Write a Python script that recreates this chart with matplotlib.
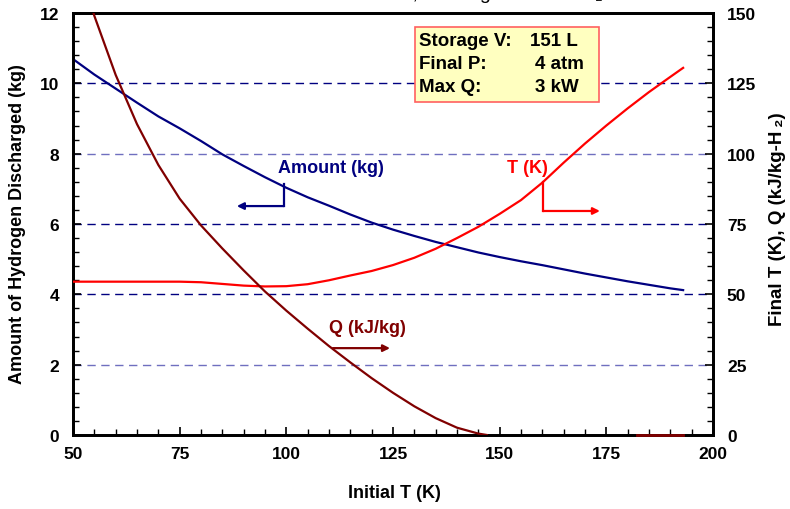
import matplotlib
matplotlib.use("Agg")
import matplotlib.pyplot as plt
from matplotlib.ticker import MultipleLocator
from matplotlib.patches import Rectangle

plt.rcParams['font.family'] = ['Liberation Sans', 'DejaVu Sans']

# ---- data ----
amount_x = [50, 55, 60, 65, 70, 75, 80, 85, 90, 95, 100, 105, 110, 115, 120, 125, 130,
            135, 140, 145, 150, 155, 160, 165, 170, 175, 180, 185, 190, 193]
amount_kg = [10.69, 10.25, 9.85, 9.45, 9.06, 8.72, 8.36, 7.98, 7.65, 7.33, 7.03, 6.76,
             6.52, 6.27, 6.04, 5.84, 5.66, 5.49, 5.34, 5.19, 5.06, 4.94, 4.83, 4.71,
             4.59, 4.48, 4.37, 4.27, 4.17, 4.12]

temp_x = [50, 55, 60, 65, 70, 75, 80, 85, 90, 95, 100, 105, 110, 115, 120, 125, 130,
          135, 140, 145, 150, 155, 160, 165, 170, 175, 180, 185, 190, 193]
temp_K = [54.5, 54.5, 54.5, 54.5, 54.5, 54.5, 54.3, 53.7, 53.1, 52.8, 52.9, 53.6, 55.0,
          56.7, 58.3, 60.4, 63.0, 66.2, 70.0, 74.0, 78.6, 83.5, 89.7, 96.8, 103.6,
          110.0, 116.1, 121.9, 127.3, 130.5]

q_x = [50, 55, 60, 65, 70, 75, 80, 85, 90, 95, 100, 105, 110, 115, 120, 125, 130, 135,
       140, 145, 147]
q_kJkg = [174, 149, 128, 110.5, 96, 84, 74.5, 66.3, 58.5, 51, 44.2, 37.8, 31.6, 25.8,
          20.2, 15.0, 10.2, 6.0, 2.6, 0.5, 0]
q_tail_x = [182.2, 193]
q_tail = [0, 0]

grid_levels = [2, 4, 6, 8, 10]
box_labels = ["Storage V:", "Final P:", "Max Q:"]
box_values = ["151 L", "4 atm", "3 kW"]

NAVY = '#000080'
RED = '#FF0000'
DRED = '#800000'

fig = plt.figure(figsize=(7.9, 5.1), dpi=100)
W, H = 790, 510
L, R, T, B = 73, 713, 14, 436
ax = fig.add_axes([L / W, 1 - B / H, (R - L) / W, (B - T) / H])
ax2 = ax.twinx()

# grid lines
grid_colors = {2: '#6f6fbf', 4: NAVY, 6: NAVY, 8: '#6f6fbf', 10: NAVY}
for g in grid_levels:
    ax.axhline(g, color=grid_colors[g], lw=1.0, ls=(0, (6, 4)), zorder=1)

ax.plot(amount_x, amount_kg, color=NAVY, lw=1.6, zorder=3)
ax2.plot(temp_x, temp_K, color=RED, lw=1.6, zorder=3)
ax2.plot(q_x, q_kJkg, color=DRED, lw=1.6, zorder=3)
ax2.plot(q_tail_x, q_tail, color=DRED, lw=2.0, zorder=3, clip_on=False)

ax.set_xlim(50, 200)
ax.set_ylim(0, 12)
ax2.set_ylim(0, 150)

ax.xaxis.set_major_locator(MultipleLocator(25))
ax.xaxis.set_minor_locator(MultipleLocator(5))
ax.yaxis.set_major_locator(MultipleLocator(2))
ax.yaxis.set_minor_locator(MultipleLocator(0.4))
ax2.yaxis.set_major_locator(MultipleLocator(25))
ax2.yaxis.set_minor_locator(MultipleLocator(5))

for a in (ax, ax2):
    for s in a.spines.values():
        s.set_linewidth(2.0)
ax.tick_params(axis='x', which='both', direction='in', top=False, bottom=True, pad=8,
               labelsize=12.5)
ax.tick_params(axis='y', which='both', direction='in', right=False, left=True, pad=10,
               labelsize=12.5)
ax2.tick_params(axis='y', which='both', direction='in', right=True, left=False, pad=10,
                labelsize=12.5)
for a in (ax, ax2):
    a.tick_params(which='major', length=6, width=1.2)
    a.tick_params(which='minor', length=4, width=1.0)
for lab in ax.get_xticklabels() + ax.get_yticklabels() + ax2.get_yticklabels():
    lab.set_fontweight('bold')

# axis labels
fig.text(394 / W, 1 - 494 / H, "Initial T (K)", ha='center', va='center',
         fontsize=13, fontweight='bold')
fig.text(18 / W, 1 - 224 / H, "Amount of Hydrogen Discharged (kg)", ha='center',
         va='center', rotation=90, fontsize=13, fontweight='bold')
fig.text(778 / W, 1 - 219 / H, "Final T (K), Q (kJ/kg-H\u2009\u2082)", ha='center',
         va='center', rotation=90, fontsize=13.5, fontweight='bold')

# title, cut off at the top edge as in the reference (only descenders visible)
fig.text(256 / W, 1 + 1 / H, "Initial P = 350 atm, Heating of Stored H\u2082",
         ha='left', va='baseline', fontsize=14)

# info box
ax.add_patch(Rectangle((0.534, 0.789), 0.288, 0.178, transform=ax.transAxes,
                       facecolor='#FFFFC0', edgecolor='#FF6060', lw=1.2, zorder=5))
label_y = [0.934, 0.881, 0.827]
value_x = [0.714, 0.722, 0.722]
for lbl, val, yy, vx in zip(box_labels, box_values, label_y, value_x):
    ax.text(0.541, yy, lbl, transform=ax.transAxes, ha='left', va='center',
            fontsize=13.5, fontweight='bold', zorder=6)
    ax.text(vx, yy, val, transform=ax.transAxes, ha='left', va='center',
            fontsize=13.5, fontweight='bold', zorder=6)

# annotations
ax.text(110.5, 7.62, "Amount (kg)", color=NAVY, ha='center', va='center',
        fontsize=13, fontweight='bold')
ax.plot([99.45, 99.45], [7.14, 6.51], color=NAVY, lw=1.6)
ax.annotate("", xy=(88.4, 6.51), xytext=(99.45, 6.51),
            arrowprops=dict(arrowstyle='-|>', color=NAVY, lw=1.6, mutation_scale=10,
                            shrinkA=0, shrinkB=0))

ax.text(156.4, 7.62, "T (K)", color=RED, ha='center', va='center',
        fontsize=13, fontweight='bold')
ax.plot([160.15, 160.15], [7.19, 6.37], color=RED, lw=1.6)
ax.annotate("", xy=(173.5, 6.37), xytext=(160.15, 6.37),
            arrowprops=dict(arrowstyle='-|>', color=RED, lw=1.6, mutation_scale=10,
                            shrinkA=0, shrinkB=0))

ax.text(118.9, 3.07, "Q (kJ/kg)", color=DRED, ha='center', va='center',
        fontsize=13, fontweight='bold')
ax.annotate("", xy=(124.3, 2.47), xytext=(110.9, 2.47),
            arrowprops=dict(arrowstyle='-|>', color=DRED, lw=1.6, mutation_scale=10,
                            shrinkA=0, shrinkB=0))

fig.savefig("out.png", dpi=100)
